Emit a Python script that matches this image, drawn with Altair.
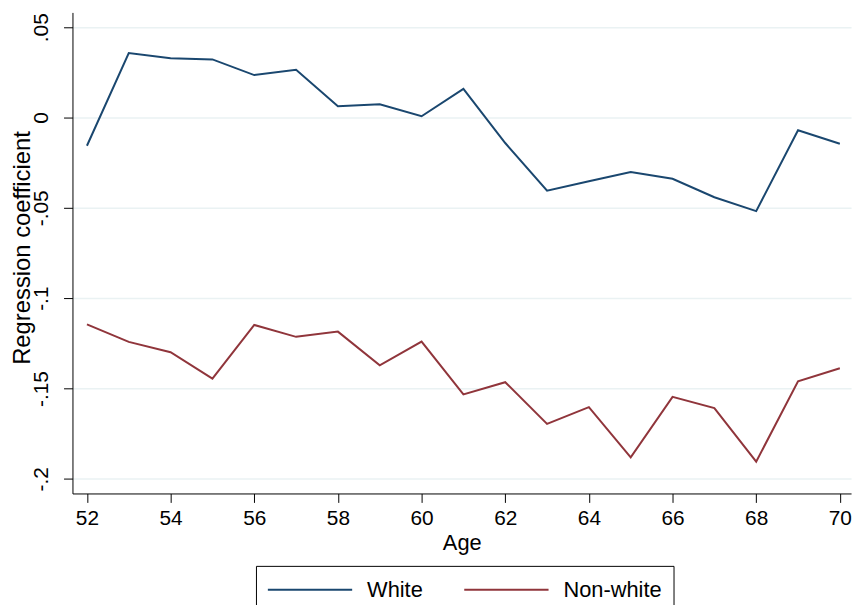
import altair as alt
import pandas as pd

ages = list(range(52, 71))
white = [-0.0156, 0.0357, 0.0328, 0.0322, 0.0235, 0.0264, 0.0062, 0.0073, 0.0007,
         0.0159, -0.0141, -0.0405, -0.0353, -0.0302, -0.0339, -0.0441, -0.0518,
         -0.0070, -0.0145]
nonwhite = [-0.1145, -0.1242, -0.1299, -0.1445, -0.1148, -0.1214, -0.1185, -0.1372,
            -0.1240, -0.1533, -0.1465, -0.1696, -0.1603, -0.1881, -0.1546, -0.1608,
            -0.1905, -0.1460, -0.1388]
series_names = ["White", "Non-white"]
series_colors = ["#1a476f", "#90353b"]
x_ticks = list(range(52, 71, 2))
y_ticks = [0.05, 0.0, -0.05, -0.1, -0.15, -0.2]
y_tick_labels = [".05", "0", "-.05", "-.1", "-.15", "-.2"]

rows = []
for a, w, n in zip(ages, white, nonwhite):
    rows.append({"Age": a, "value": w, "group": series_names[0]})
    rows.append({"Age": a, "value": n, "group": series_names[1]})
df = pd.DataFrame(rows)

label_expr = "''"
for v, lab in reversed(list(zip(y_ticks, y_tick_labels))):
    label_expr = f"abs(datum.value - ({v})) < 1e-9 ? '{lab}' : ({label_expr})"

FONT = "Liberation Sans"

chart = alt.Chart(df).mark_line(strokeWidth=2).encode(
    x=alt.X("Age:Q",
            scale=alt.Scale(domain=[51.654, 70.268], nice=False, zero=False),
            axis=alt.Axis(values=x_ticks, title="Age", grid=False,
                          labelFontSize=21, titleFontSize=22,
                          tickSize=9, labelPadding=5, titlePadding=4,
                          labelFlush=False)),
    y=alt.Y("value:Q",
            scale=alt.Scale(domain=[-0.2081, 0.0582], nice=False, zero=False),
            axis=alt.Axis(values=y_ticks, title="Regression coefficient",
                          labelExpr=label_expr, labelAngle=270,
                          labelAlign="center", labelBaseline="bottom",
                          labelFontSize=21, titleFontSize=24,
                          titleAngle=270, titleAlign="center", titleBaseline="middle",
                          titleX=-50, titleY=237,
                          tickSize=9, labelPadding=12,
                          grid=True, gridColor="#eaf2f3", gridWidth=1.5,
                          labelFlush=False)),
    color=alt.Color("group:N",
                    scale=alt.Scale(domain=series_names, range=series_colors),
                    sort=series_names,
                    legend=alt.Legend(title=None, orient="none", legendX=185, legendY=558,
                                      direction="horizontal", columns=2,
                                      symbolType="M-1,0L6.083,0", symbolSize=576,
                                      symbolStrokeWidth=2, labelFontSize=22,
                                      labelOffset=75, columnPadding=37,
                                      padding=11, strokeColor="black",
                                      labelColor="black")),
).properties(
    width=785, height=485,
    autosize=alt.AutoSizeParams(type="none"),
    padding={"left": 65, "top": 2, "right": 8, "bottom": 110},
    background="white",
).configure_view(stroke=None).configure_axis(
    domainColor="black", tickColor="black", labelColor="black", titleColor="black",
    labelFont=FONT, titleFont=FONT, titleFontWeight="normal", domainWidth=1, tickWidth=1,
).configure_legend(labelFont=FONT)

chart.save("out.html", embed_options={"renderer": "svg", "actions": False})
